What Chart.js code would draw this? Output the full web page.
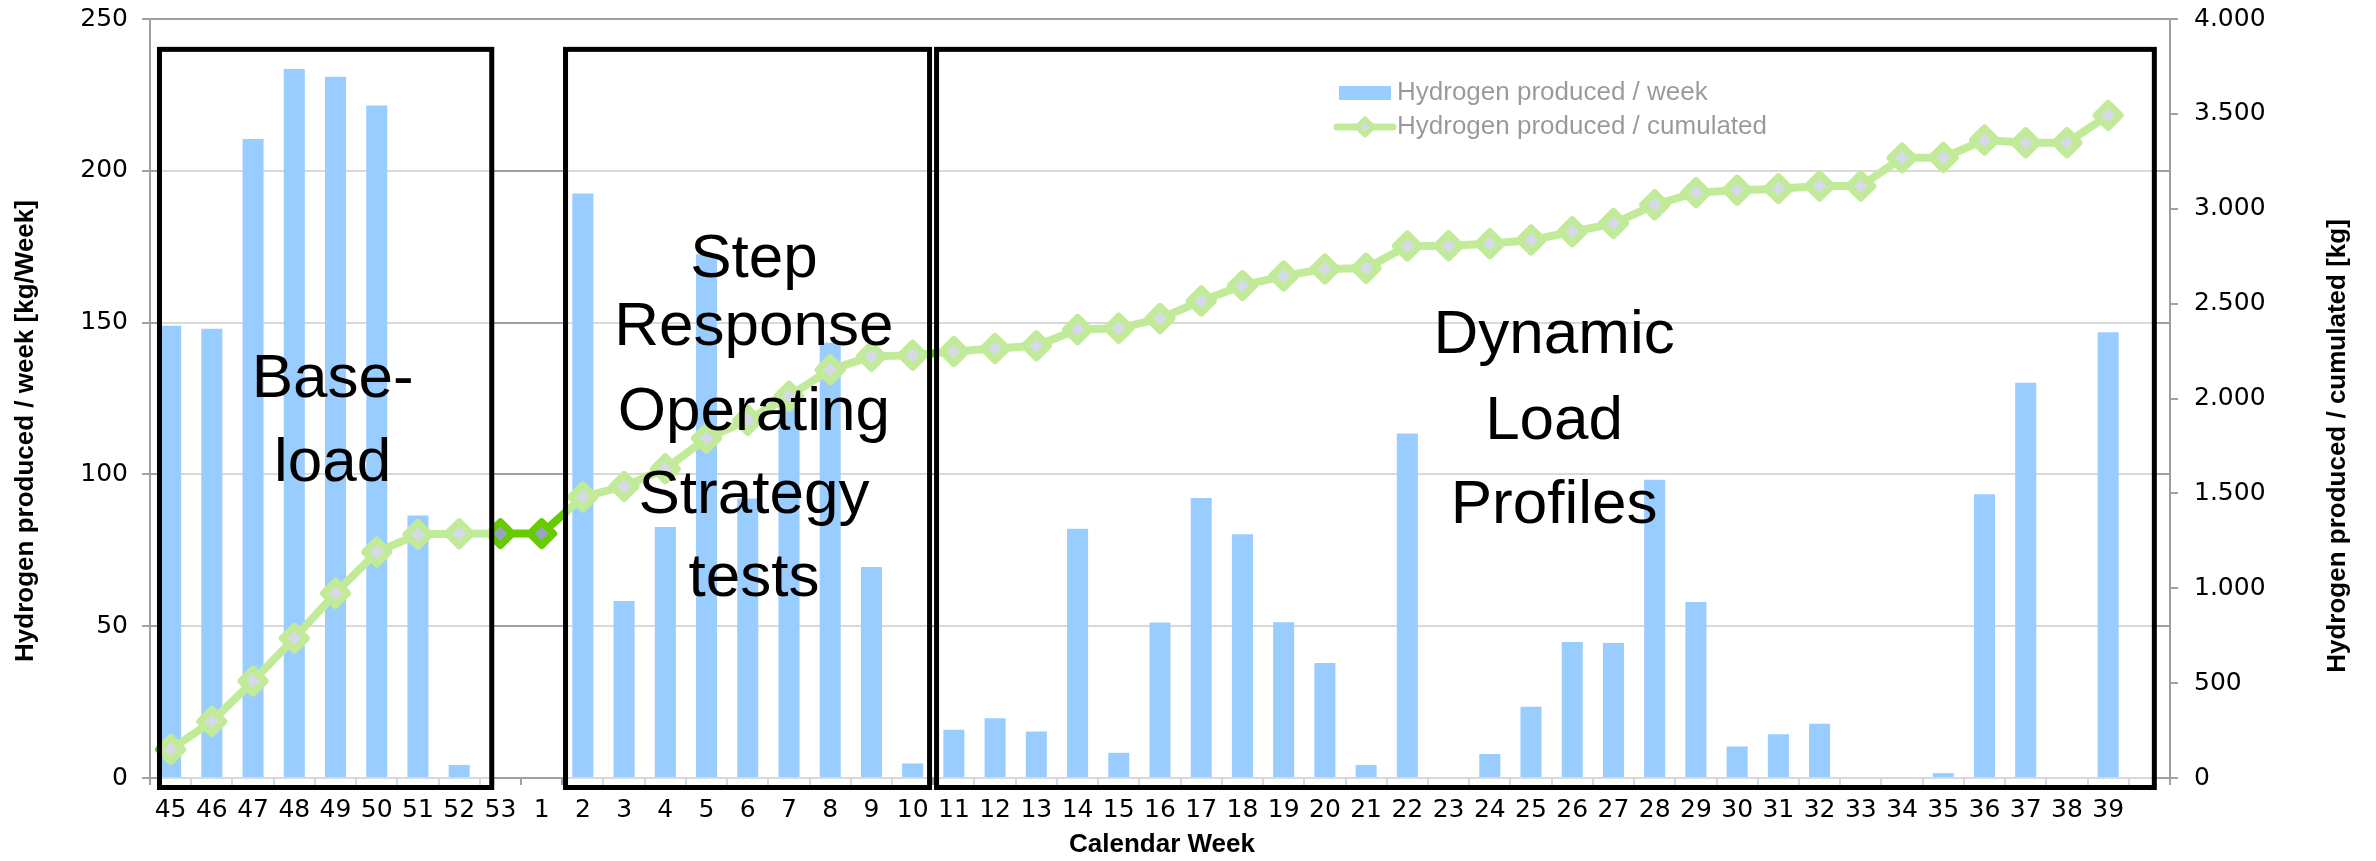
<!DOCTYPE html>
<html>
<head>
<meta charset="utf-8">
<title>Hydrogen production per calendar week</title>
<script src="https://cdn.jsdelivr.net/npm/chart.js@4.4.1/dist/chart.umd.min.js"></script>
<style>
  html, body { margin: 0; padding: 0; background: #fff; }
  canvas { display: block; }
</style>
</head>
<body>
<canvas id="chart" width="2376" height="861"></canvas>
<script>
// Calendar weeks (45/2013 .. 39/2014), plus one empty slot at the end
const weeks = ['45','46','47','48','49','50','51','52','53',
  '1','2','3','4','5','6','7','8','9','10',
  '11','12','13','14','15','16','17','18','19','20','21','22','23','24','25',
  '26','27','28','29','30','31','32','33','34','35','36','37','38','39',''];

// Hydrogen produced per week [kg/Week]
const producedPerWeek = [149, 148, 210.5, 233.5, 231, 221.5, 86.5, 4.3, 0,
  0, 192.5, 58.3, 82.7, 172.5, 92.1, 128, 143.4, 69.5, 4.8,
  15.9, 19.7, 15.3, 82.1, 8.3, 51.2, 92.2, 80.3, 51.3, 37.9, 4.3, 113.5, 0, 7.9, 23.5,
  44.8, 44.5, 98.2, 58, 10.4, 14.4, 17.9, 0, 0.3, 1.6, 93.5, 130.2, 0, 146.8, null];

// Hydrogen produced, cumulated [kg]
const producedCumulated = [150, 298, 511, 737, 974, 1191, 1284, 1287, 1288,
  1288, 1481, 1537, 1630, 1790, 1885, 2012, 2152, 2222, 2228,
  2248, 2263, 2278, 2364, 2370, 2422, 2514, 2595, 2646, 2683, 2686, 2804, 2805, 2816, 2835,
  2879, 2922, 3021, 3085, 3098, 3106, 3120, 3120, 3268, 3270, 3362, 3348, 3348, 3492, null];

// Axis ranges and tick steps
const weekAxis = { min: 0, max: 250, step: 50 };
const cumulatedAxis = { min: 0, max: 4000, step: 500 };

// Test phases: label lines
const phaseLabels = [['Base-', 'load'],
  ['Step', 'Response', 'Operating', 'Strategy', 'tests'],
  ['Dynamic', 'Load', 'Profiles']];

const seriesNames = ['Hydrogen produced / week', 'Hydrogen produced / cumulated'];
const axisTitles = { left: 'Hydrogen produced / week [kg/Week]',
  right: 'Hydrogen produced / cumulated [kg]', bottom: 'Calendar Week' };

const FONT = '"Liberation Sans", Arial, Helvetica, sans-serif';
const TICK_FONT = '"DejaVu Sans", Verdana, sans-serif';
const BAR_COLOR = 'rgb(0,128,255)';
const LINE_COLOR = '#66cc00';
const MARKER_FILL = '#97a6bb';
const AXIS_COLOR = '#a0a0a0';
const PLOT_TOP = 18.5;

// Frame geometry for the phases (slot units along x, pixel baselines for the names)
const phaseFrames = [
  { from: 0.23, to: 8.29, center: 4.43, baselines: [397, 481] },
  { from: 10.08, to: 18.91, center: 14.65, baselines: [277, 345, 430, 513, 596] },
  { from: 19.08, to: 48.62, center: 34.06, baselines: [353, 439, 523] }
];

const thousands = v => String(v).replace(/\B(?=(\d{3})+(?!\d))/g, '.');

function drawDiamond(ctx, x, y, r, lw, fill, stroke) {
  ctx.beginPath();
  ctx.moveTo(x - r, y); ctx.lineTo(x, y - r); ctx.lineTo(x + r, y); ctx.lineTo(x, y + r);
  ctx.closePath();
  ctx.fillStyle = fill; ctx.fill();
  ctx.lineWidth = lw; ctx.strokeStyle = stroke; ctx.stroke();
}

const phasePlugin = {
  id: 'phases',
  beforeDatasetsDraw(chart) {
    chart.ctx.lineJoin = 'round';
  },
  afterDatasetsDraw(chart) {
    const ctx = chart.ctx;
    const xs = chart.scales.x;
    const slot = (xs.right - xs.left) / weeks.length;
    const colX = u => xs.left + u * slot;
    const ca = chart.chartArea;

    ctx.save();
    // legend, inside the plot
    ctx.fillStyle = BAR_COLOR;
    ctx.fillRect(1339, 86, 52, 14);
    ctx.beginPath();
    ctx.moveTo(1337, 127); ctx.lineTo(1393, 127);
    ctx.lineWidth = 7; ctx.lineCap = 'round'; ctx.strokeStyle = LINE_COLOR; ctx.stroke();
    ctx.lineCap = 'butt';
    ctx.lineJoin = 'round';
    drawDiamond(ctx, 1365, 127, 8, 5, MARKER_FILL, LINE_COLOR);
    ctx.fillStyle = '#000';
    ctx.font = '26px ' + FONT;
    ctx.textAlign = 'left';
    ctx.textBaseline = 'middle';
    ctx.fillText(seriesNames[0], 1397, 93);
    ctx.fillText(seriesNames[1], 1397, 127);

    // translucent phase frames
    const top = chart.scales.y.getPixelForValue(240);
    const bottom = ca.bottom + 9.5;
    ctx.fillStyle = 'rgba(255,255,255,0.6)';
    phaseFrames.forEach(f => ctx.fillRect(colX(f.from), top, colX(f.to) - colX(f.from), bottom - top));
    ctx.lineWidth = 5;
    ctx.lineJoin = 'miter';
    ctx.strokeStyle = '#000';
    phaseFrames.forEach(f => ctx.strokeRect(colX(f.from), top, colX(f.to) - colX(f.from), bottom - top));

    // phase names
    ctx.fillStyle = '#000';
    ctx.font = '62px ' + FONT;
    ctx.textAlign = 'center';
    ctx.textBaseline = 'alphabetic';
    phaseFrames.forEach((f, i) => {
      phaseLabels[i].forEach((line, j) => ctx.fillText(line, colX(f.center), f.baselines[j]));
    });
    ctx.restore();
  },
  afterDraw(chart) {
    const ctx = chart.ctx;
    const titles = [
      { text: axisTitles.bottom, x: 1162, y: 845, rot: 0 },
      { text: axisTitles.left, x: 26, y: 431, rot: -Math.PI / 2 },
      { text: axisTitles.right, x: 2338, y: 446, rot: -Math.PI / 2 }
    ];
    titles.forEach(t => {
      ctx.save();
      ctx.fillStyle = '#000';
      ctx.font = 'bold 26px ' + FONT;
      ctx.textAlign = 'center';
      ctx.textBaseline = 'middle';
      ctx.translate(t.x, t.y);
      ctx.rotate(t.rot);
      ctx.fillText(t.text, 0, 0);
      ctx.restore();
    });
  }
};

// value axes keep a fixed width and leave the plot top at PLOT_TOP
const fitValueAxis = width => s => {
  s.width = width;
  s.paddingTop = PLOT_TOP;
  s.paddingBottom = 0;
};

new Chart(document.getElementById('chart'), {
  type: 'bar',
  data: {
    labels: weeks,
    datasets: [
      {
        type: 'line',
        label: seriesNames[1],
        data: producedCumulated,
        yAxisID: 'y2',
        order: 0,
        borderColor: LINE_COLOR,
        borderWidth: 8,
        borderJoinStyle: 'round',
        tension: 0,
        pointStyle: 'rectRot',
        pointRadius: 12,
        pointBorderWidth: 7,
        pointBackgroundColor: MARKER_FILL,
        pointBorderColor: LINE_COLOR
      },
      {
        type: 'bar',
        label: seriesNames[0],
        data: producedPerWeek,
        yAxisID: 'y',
        order: 1,
        backgroundColor: BAR_COLOR,
        borderWidth: 0,
        categoryPercentage: 1,
        barPercentage: 0.51
      }
    ]
  },
  options: {
    responsive: false,
    animation: false,
    devicePixelRatio: 1,
    layout: { padding: 0 },
    plugins: { legend: { display: false }, tooltip: { enabled: false } },
    scales: {
      x: {
        offset: true,
        grid: { drawOnChartArea: false, offset: true, tickLength: 7, color: AXIS_COLOR, lineWidth: 2 },
        border: { color: AXIS_COLOR, width: 2 },
        ticks: { color: '#000', font: { family: TICK_FONT, size: 25 }, padding: 10, maxRotation: 0, autoSkip: false },
        afterFit: s => { s.height = 83; s.paddingLeft = 0; s.paddingRight = 0; }
      },
      y: {
        position: 'left',
        min: weekAxis.min, max: weekAxis.max,
        grid: { color: AXIS_COLOR, lineWidth: 2, tickLength: 8 },
        border: { color: AXIS_COLOR, width: 2 },
        ticks: { stepSize: weekAxis.step, color: '#000', font: { family: TICK_FONT, size: 25 }, padding: 14 },
        afterFit: fitValueAxis(150)
      },
      y2: {
        position: 'right',
        min: cumulatedAxis.min, max: cumulatedAxis.max,
        grid: { drawOnChartArea: false, color: AXIS_COLOR, lineWidth: 2, tickLength: 8 },
        border: { color: AXIS_COLOR, width: 2 },
        ticks: { stepSize: cumulatedAxis.step, color: '#000', font: { family: TICK_FONT, size: 25 }, padding: 16,
          callback: v => thousands(v) },
        afterFit: fitValueAxis(206)
      }
    }
  },
  plugins: [phasePlugin]
});
</script>
</body>
</html>
